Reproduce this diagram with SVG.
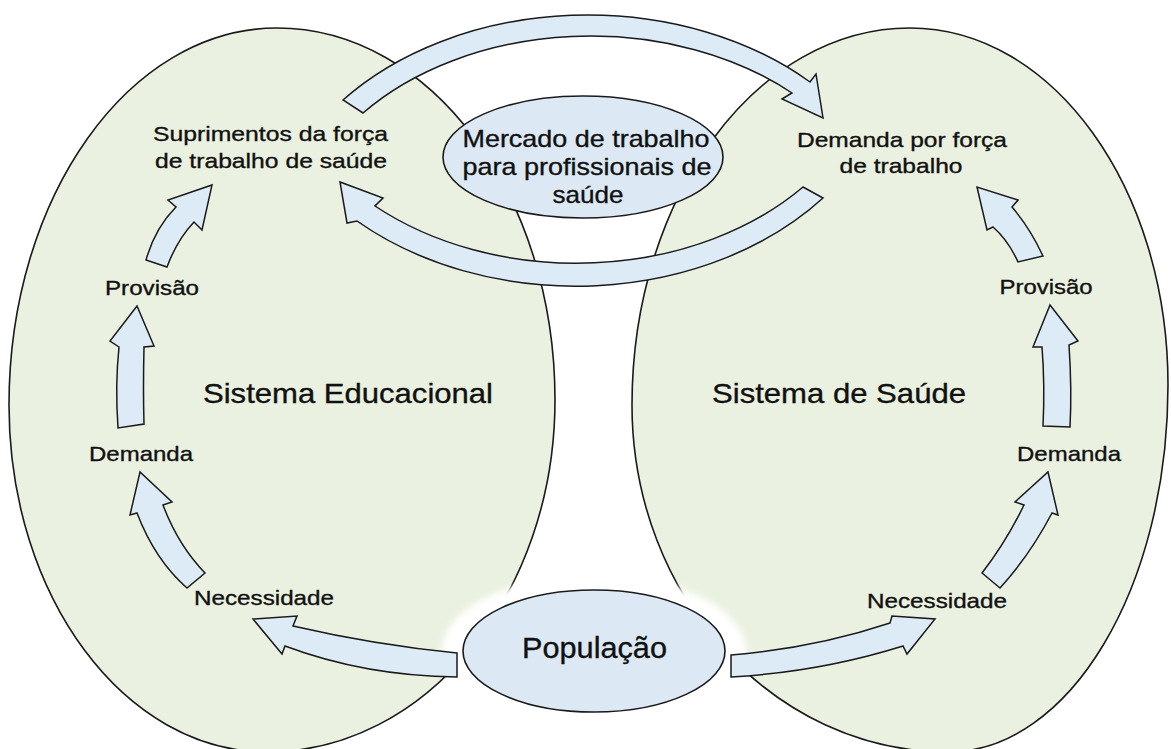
<svg xmlns="http://www.w3.org/2000/svg" width="1171" height="749" viewBox="0 0 1171 749">
<defs>
<filter id="soft" x="-20%" y="-20%" width="140%" height="140%"><feGaussianBlur stdDeviation="3"/></filter>
</defs>
<style>
.oval{fill:#ebf1e0;stroke:#1a1a1a;stroke-width:1.6}
.ell{fill:#dce9f4;stroke:#1a1a1a;stroke-width:1.6}
.arr{fill:#dcebf6;stroke:#1a1a1a;stroke-width:1.5;stroke-linejoin:miter}
text{font-family:"Liberation Sans",Arial,sans-serif;fill:#111;stroke:#111;stroke-width:0.35;text-anchor:middle}
.s{font-size:21px}
.m{font-size:24px}
.b{font-size:28px}
</style>
<rect width="1171" height="749" fill="#ffffff"/>
<g id="sistema-educacional">
<path class="oval" d="M277 28 C430.5 28 555 194.5 555 400 C555 594.4 426 752 267 752 C124.5 752 9 596.6 9 405 C9 196.8 129 28 277 28 Z"/>
</g>
<g id="sistema-saude">
<path class="oval" d="M910 28 C1052.5 28 1168 187.8 1168 385 C1168 587.7 1069.5 752 948 752 C773.5 752 632 596.6 632 405 C632 196.8 756.5 28 910 28 Z"/>
</g>
<ellipse cx="594" cy="651" rx="152" ry="76" fill="#ffffff" filter="url(#soft)"/>
<g id="mercado">
<ellipse class="ell" cx="583" cy="157" rx="140" ry="61"/>
<text class="m" x="586" y="147" textLength="247" lengthAdjust="spacingAndGlyphs">Mercado de trabalho</text>
<text class="m" x="587" y="175" textLength="249" lengthAdjust="spacingAndGlyphs">para profissionais de</text>
<text class="m" x="588" y="203" textLength="71" lengthAdjust="spacingAndGlyphs">saúde</text>
</g>
<g id="populacao">
<ellipse class="ell" cx="594" cy="651" rx="131" ry="61"/>
<text x="594.5" y="658" font-size="29" textLength="145" lengthAdjust="spacingAndGlyphs">População</text>
</g>
<g id="connectors">
<path class="arr" d="M343 100 A319 237 0 0 1 810 82 L816 74 L823 118 L782 99 L792 93 A297 215 0 0 0 363 113 Z"/>
<path class="arr" d="M823 198 L803 187 A301 223 0 0 1 375 206 L383 198 L340 182 L347 223 L357 221 A323 247 0 0 0 823 198 Z"/>
<path class="arr" d="M187 588 Q155 560 137 513 L130 515 L140 472 L172 502 L163 505 Q178 545 205 573 Z"/>
<path class="arr" d="M118 428 Q115 385 119 347 L110 341 L137 306 L154 346 L144 347 Q143 390 144 424 Z"/>
<path class="arr" d="M146 260 Q155 228 176 207 L168 200 L212 185 L202 230 L194 222 Q177 240 167 267 Z"/>
<path class="arr" d="M457 653 Q375 645 293 626 L297 616 L253 619 L282 654 L285 646 Q365 676 457 677 Z"/>
<path class="arr" d="M731 655 Q815 648 890 623 L892 616 L935 619 L907 654 L903 646 Q820 672 731 677 Z"/>
<path class="arr" d="M982 573 Q1006 542 1024 505 L1015 502 L1048 472 L1058 515 L1052 513 Q1030 555 1000 588 Z"/>
<path class="arr" d="M1043 426 Q1045 385 1042 347 L1033 347 L1050 305 L1078 341 L1069 345 Q1072 390 1070 427 Z"/>
<path class="arr" d="M1018 262 Q1008 240 993 227 L987 230 L977 187 L1018 200 L1012 207 Q1030 228 1043 256 Z"/>
</g>
<g id="suprimentos">
<text class="s" x="270.5" y="141" font-size="22" textLength="235" lengthAdjust="spacingAndGlyphs">Suprimentos da força</text>
<text class="s" x="271" y="168" font-size="22" textLength="232" lengthAdjust="spacingAndGlyphs">de trabalho de saúde</text>
</g>
<g id="demanda-forca">
<text class="s" x="902" y="147" textLength="210" lengthAdjust="spacingAndGlyphs">Demanda por força</text>
<text class="s" x="901" y="173" textLength="123" lengthAdjust="spacingAndGlyphs">de trabalho</text>
</g>
<g id="provisao-e"><text class="s" x="152" y="295" textLength="94" lengthAdjust="spacingAndGlyphs">Provisão</text></g>
<g id="demanda-e"><text class="s" x="141" y="461" textLength="104" lengthAdjust="spacingAndGlyphs">Demanda</text></g>
<g id="necessidade-e"><text class="s" x="264" y="605" textLength="140" lengthAdjust="spacingAndGlyphs">Necessidade</text></g>
<g id="provisao-s"><text class="s" x="1046" y="294" textLength="93" lengthAdjust="spacingAndGlyphs">Provisão</text></g>
<g id="demanda-s"><text class="s" x="1069" y="461" textLength="104" lengthAdjust="spacingAndGlyphs">Demanda</text></g>
<g id="necessidade-s"><text class="s" x="937" y="608" textLength="140" lengthAdjust="spacingAndGlyphs">Necessidade</text></g>
<g id="titulo-educacional"><text class="b" x="348" y="403" textLength="290" lengthAdjust="spacingAndGlyphs">Sistema Educacional</text></g>
<g id="titulo-saude"><text class="b" x="839" y="403" textLength="254" lengthAdjust="spacingAndGlyphs">Sistema de Saúde</text></g>
</svg>
